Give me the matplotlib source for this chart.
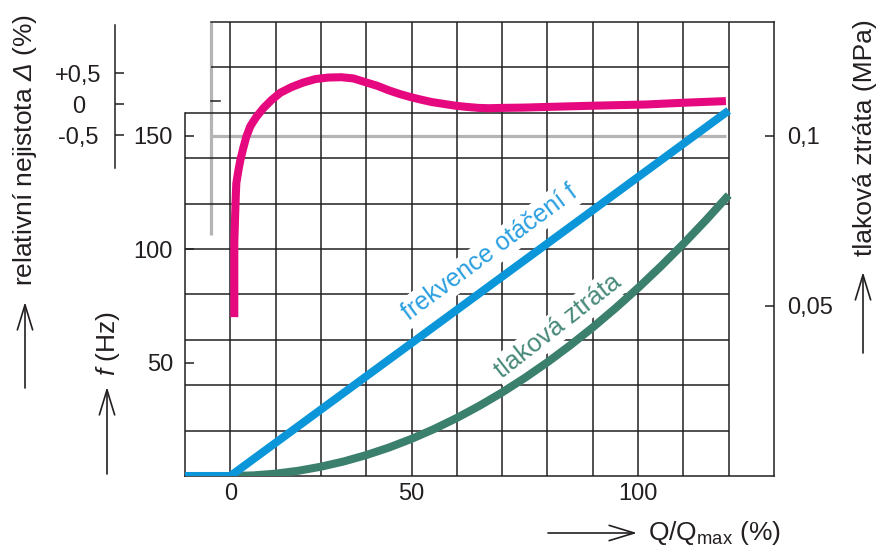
import numpy as np
import matplotlib
matplotlib.use("Agg")
import matplotlib.pyplot as plt
from matplotlib.patches import FancyArrowPatch

plt.rcParams["font.family"] = ["Liberation Sans", "DejaVu Sans"]
plt.rcParams["mathtext.fontset"] = "custom"
plt.rcParams["mathtext.rm"] = "Liberation Sans"
plt.rcParams["mathtext.it"] = "Liberation Sans:italic"
plt.rcParams["mathtext.sf"] = "Liberation Sans:italic"

# ---- data -------------------------------------------------------------
# printed flow scale is not uniform: breakpoints (Q/Qmax %) -> grid columns
q_knots = [-100.0, -12.5, 0.0, 50.0, 130.0, 250.0]
col_knots = [-8.0, -1.0, 0.0, 4.0, 12.0, 24.0]

q_ticks = [0, 50, 100]
q_tick_labels = ["0", "50", "100"]
f_ticks = [50, 100, 150]
f_tick_labels = ["50", "100", "150"]
p_ticks = [0.05, 0.1]
p_tick_labels = ["0,05", "0,1"]
d_ticks = [0.5, 0.0, -0.5]
d_tick_labels = ["+0,5", "0", "-0,5"]

# frequency of rotation f (Hz)
q_freq = [-12.5, 0.0, 120.0]
freq = [0.0, 0.0, 161.0]

# pressure loss (MPa)
q_press = [0, 6.25, 12.5, 18.75, 25, 31.25, 37.5, 43.75, 50, 55, 60, 65,
           70, 75, 80, 85, 90, 95, 100, 105, 110, 115, 120]
press = [0.0, 0.00017, 0.00068, 0.00153, 0.00273, 0.00426, 0.00614,
         0.00835, 0.01091, 0.01381, 0.01705, 0.02063, 0.02455, 0.02881,
         0.03341, 0.03836, 0.04364, 0.04927, 0.05523, 0.06154, 0.06818,
         0.07517, 0.0825]

# relative uncertainty Delta (%)
q_delta = [1.10, 1.10, 1.10, 1.38, 1.52, 1.66, 2.21, 2.76, 3.59, 4.42, 5.52,
           7.18, 9.12, 11.33, 13.81, 16.85, 20.17, 23.48, 27.07, 30.66,
           33.98, 37.29, 40.61, 43.65, 46.69, 49.72, 51.99, 54.42, 57.07,
           59.72, 62.38, 64.81, 67.24, 69.67, 74.75, 79.61, 84.70, 89.78,
           95.75, 101.71, 110.55, 119.39]
delta = [-3.43, -2.99, -2.23, -1.70, -1.46, -1.27, -1.07, -0.90, -0.70,
         -0.52, -0.35, -0.20, -0.06, 0.07, 0.19, 0.28, 0.355, 0.41, 0.435,
         0.44, 0.42, 0.36, 0.30, 0.23, 0.17, 0.12, 0.08, 0.04, 0.01, -0.02,
         -0.04, -0.055, -0.06, -0.055, -0.05, -0.04, -0.03, -0.02, -0.01,
         0.0, 0.03, 0.055]

# chart grid
grid_q = [0, 12.5, 25, 37.5, 50, 60, 70, 80, 90, 100, 110, 120]
grid_f = [20, 40, 60, 80, 100, 120, 140, 160, 180]

# ---- style ------------------------------------------------------------
ink = "#231f20"
c_freq = "#0a96d8"
c_press = "#3b7f6d"
c_delta = "#e5087f"
c_gray = "#b4b4b4"
fs_tick = 17
fs_label = 19
fs_caption = 18

W, H = 879, 548
fig = plt.figure(figsize=(W / 100, H / 100), dpi=100)
ax = fig.add_axes([185 / W, (H - 476) / H, 589 / W, 454 / H])


def fwd(q):
    return np.interp(q, q_knots, col_knots)


def inv(c):
    return np.interp(c, col_knots, q_knots)


ax.set_xscale("function", functions=(fwd, inv))
ax.set_xlim(-12.5, 130)
ax.set_ylim(0, 200)

ax_d = ax.twinx()
ax_p = ax.twinx()
ax_f = ax.twinx()

d_per_px = 0.5 / 31.0
ax_d.set_ylim(-(476 - 104.5) * d_per_px, (104.5 - 22) * d_per_px)
ax_p.set_ylim(0, 200 * 0.1 / 150)
ax_f.set_ylim(0, 200)

# ---- grid & frame -----------------------------------------------------
q_gray = -5.25
lw_grid = 1.1
ax.vlines(grid_q, 0, 200, color=ink, lw=lw_grid, zorder=1)
for f in grid_f:
    left = -12.5 if f <= 160 else q_gray
    ax.hlines(f, left, 120, color=ink, lw=lw_grid, zorder=1)
ax.plot([q_gray, q_gray], [106, 200], color=c_gray, lw=2.3, zorder=0.9,
        solid_capstyle="butt")
ax.plot([q_gray, 119.4], [150, 150], color=c_gray, lw=2.3, zorder=0.9,
        solid_capstyle="butt")
ax.plot([q_gray, -2.75], [165.2, 165.2], color=ink, lw=lw_grid, zorder=1)

for side in ["left", "right", "top", "bottom"]:
    ax.spines[side].set_color(ink)
    ax.spines[side].set_linewidth(lw_grid)
ax.spines["left"].set_bounds(0, 160)
ax.spines["top"].set_bounds(q_gray, 130)

ax.set_xticks(q_ticks, q_tick_labels)
ax.set_yticks(f_ticks, f_tick_labels)
ax.tick_params(axis="x", length=0, pad=5, labelsize=fs_tick, labelcolor=ink)
ax.tick_params(axis="y", direction="in", length=6.5, width=lw_grid,
               color=ink, pad=8.6, labelsize=fs_tick, labelcolor=ink)

# pressure-loss scale on the right
for s in ax_p.spines.values():
    s.set_visible(False)
ax_p.set_yticks(p_ticks, p_tick_labels)
ax_p.tick_params(axis="y", direction="in", length=6.5, width=lw_grid,
                 color=ink, pad=9.4, labelsize=fs_tick, labelcolor=ink)

# relative-uncertainty scale, detached on the far left
for side, s in ax_d.spines.items():
    s.set_visible(side == "left")
ax_d.spines["left"].set_position(("axes", (115 - 185) / 589))
ax_d.spines["left"].set_bounds(-(168 - 104.5) * d_per_px,
                               (104.5 - 25) * d_per_px)
ax_d.spines["left"].set_color(ink)
ax_d.spines["left"].set_linewidth(lw_grid)
ax_d.yaxis.tick_left()
ax_d.set_yticks(d_ticks, d_tick_labels)
ax_d.tick_params(axis="y", direction="in", length=6.5, width=lw_grid,
                 color=ink, pad=26.5, labelsize=fs_tick, labelcolor=ink)
for lbl in ax_d.get_yticklabels():
    lbl.set_horizontalalignment("center")

for s in ax_f.spines.values():
    s.set_visible(False)
ax_f.set_yticks([])

# ---- curves -----------------------------------------------------------
lw_curve = 5.8
ax_p.plot(q_press, press, color=c_press, lw=lw_curve,
          solid_capstyle="butt", solid_joinstyle="round", zorder=3)
ax_d.plot(q_delta, delta, color=c_delta, lw=lw_curve,
          solid_capstyle="butt", solid_joinstyle="round", zorder=3)
ax_f.plot(q_freq, freq, color=c_freq, lw=lw_curve,
          solid_capstyle="butt", solid_joinstyle="round", zorder=3)

# curve captions on white ground
ax.text(68.2, 96.0, "frekvence otáčení f", color="#2a9fe0",
        fontsize=fs_caption, rotation=36.5, rotation_mode="anchor",
        ha="center", va="baseline", zorder=2,
        bbox=dict(boxstyle="square,pad=0.12", fc="white", ec="none"))
ax.text(83.2, 63.5, "tlaková ztráta", color="#47897a",
        fontsize=fs_caption + 0.5, rotation=38, rotation_mode="anchor",
        ha="center", va="baseline", zorder=2,
        bbox=dict(boxstyle="square,pad=0.12", fc="white", ec="none"))

# ---- axis titles with arrows -----------------------------------------
fig.text(25 / W, 1 - 150 / H, r"relativní nejistota $\mathsf{\Delta}$ (%)",
         rotation=90, ha="center", va="center", fontsize=fs_label, color=ink)
fig.text(108 / W, 1 - 343.5 / H, r"$\mathit{f}$ (Hz)",
         rotation=90, ha="center", va="center", fontsize=fs_label, color=ink)
fig.text(865 / W, 1 - 138 / H, "tlaková ztráta (MPa)",
         rotation=90, ha="center", va="center", fontsize=fs_label, color=ink)
fig.text(648 / W, 1 - 533 / H, r"Q/Q$_{\mathregular{max}}$ (%)",
         ha="left", va="center", fontsize=fs_label, color=ink)


def arrow(x0, y0, x1, y1):
    fig.patches.append(FancyArrowPatch(
        (x0 / W, 1 - y0 / H), (x1 / W, 1 - y1 / H),
        transform=fig.transFigure, arrowstyle="->,head_length=1.8,head_width=0.55",
        mutation_scale=10, lw=1.2, color=ink, shrinkA=0, shrinkB=0))


arrow(25, 388, 25, 302)
arrow(107, 474, 107, 387)
arrow(863, 353, 863, 272)
arrow(548, 533, 637, 533)

fig.savefig("out.png", dpi=100)
